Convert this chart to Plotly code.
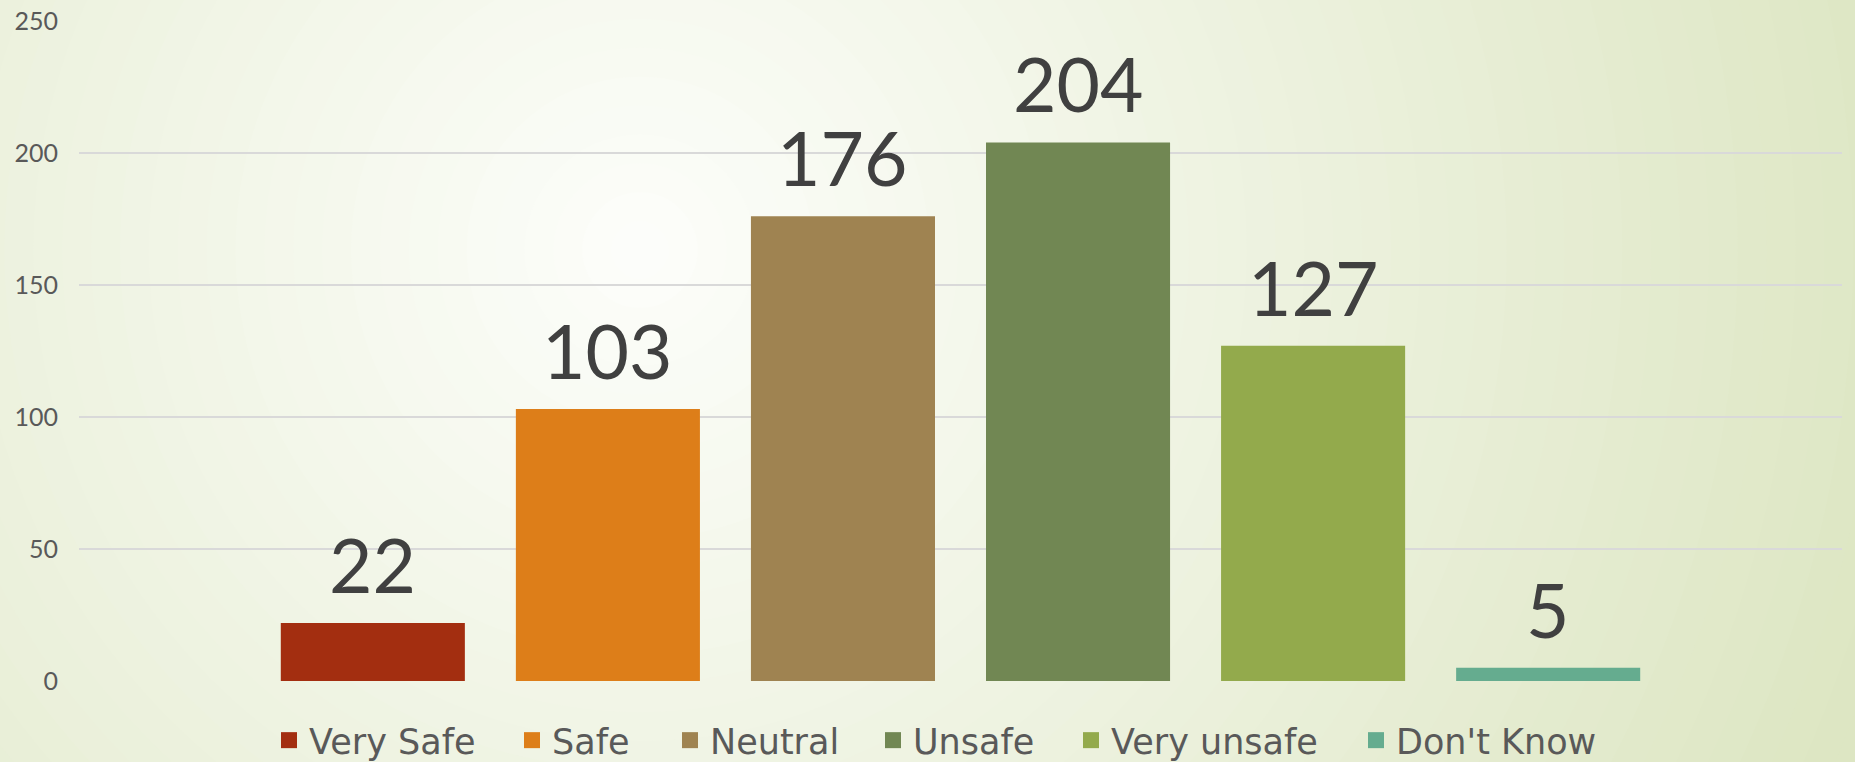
import plotly.graph_objects as go

categories = ["Very Safe", "Safe", "Neutral", "Unsafe", "Very unsafe", "Don't Know"]
values = [22, 103, 176, 204, 127, 5]
colors = ["#a32e10", "#dd7e19", "#9f8351", "#718753", "#93aa4c", "#65ac8f"]
y_ticks = [0, 50, 100, 150, 200, 250]

# layout / style settings (pixels)
W, H = 1855, 762
ML, MR, MT, MB = 79, 13, 21, 81
PW, PH = W - ML - MR, H - MT - MB
legend_swatch_left_px = [281, 524, 682, 885, 1083, 1368]

FONT = "Lato"
LEGEND_FONT = "DejaVu Sans"

fig = go.Figure()
for cat, val, col in zip(categories, values, colors):
    fig.add_trace(go.Bar(
        x=[cat], y=[val], name=cat, showlegend=False,
        marker=dict(color=col, line=dict(width=0)),
        cliponaxis=False,
    ))

legend_layouts = {}
for i, (cat, col) in enumerate(zip(categories, colors)):
    lname = "legend" if i == 0 else "legend%d" % (i + 1)
    fig.add_trace(go.Scatter(
        x=[None], y=[None], name=cat, mode="markers",
        marker=dict(symbol="square", size=20, color=col),
        showlegend=True, hoverinfo="skip", legend=lname,
    ))
    legend_layouts[lname] = dict(
        orientation="h", xanchor="left", yanchor="middle",
        x=(legend_swatch_left_px[i] - 12 - ML) / PW, y=-0.09,
        font=dict(family=LEGEND_FONT, size=35, color="#595959"),
        bgcolor="rgba(0,0,0,0)", borderwidth=0,
        itemclick=False, itemdoubleclick=False,
    )

annotations = []
for cat, val in zip(categories, values):
    annotations.append(dict(
        x=cat, y=val, xref="x", yref="y", text=str(val),
        showarrow=False, yanchor="bottom", xanchor="center", yshift=12,
        font=dict(family=FONT, size=75, color="#404040"),
    ))

# radial background gradient (decoration)
def lerp(c1, c2, t):
    a = [int(c1[i:i+2], 16) for i in (1, 3, 5)]
    b = [int(c2[i:i+2], 16) for i in (1, 3, 5)]
    return "rgb(%d,%d,%d)" % tuple(round(a[k] + (b[k] - a[k]) * t) for k in range(3))

shapes = []
cx, cy = 640, 250
RMAX = 1300
N = 45
inner, outer = "#fdfefb", "#dde6c3"
for i in range(N, 0, -1):
    r = RMAX * i / N
    t = i / N
    shapes.append(dict(
        type="circle", xref="paper", yref="paper", layer="below",
        x0=(cx - r - ML) / PW, x1=(cx + r - ML) / PW,
        y0=(H - MB - (cy + r)) / PH, y1=(H - MB - (cy - r)) / PH,
        fillcolor=lerp(inner, outer, t), line=dict(width=0),
    ))

fig.update_layout(
    width=W, height=H,
    margin=dict(l=ML, r=MR, t=MT, b=MB, pad=0, autoexpand=False),
    paper_bgcolor=outer,
    plot_bgcolor="rgba(0,0,0,0)",
    barmode="relative",
    bargap=0.217,
    shapes=shapes,
    annotations=annotations,
    showlegend=True,
    xaxis=dict(
        range=[-1.25, 6.25], showticklabels=False, showgrid=False,
        zeroline=False, showline=False, ticks="", fixedrange=True,
    ),
    yaxis=dict(
        range=[0, 250], tickvals=y_ticks, ticktext=[str(v) for v in y_ticks],
        showgrid=True, gridcolor="#d9d9d9", gridwidth=2,
        zeroline=False, showline=False, ticks="",
        tickfont=dict(family=FONT, size=25, color="#595959"),
        ticklabelstandoff=20, fixedrange=True, automargin=False,
    ),
    font=dict(family=FONT),
    **legend_layouts,
)

fig.write_html(
    "out.html",
    config={"displayModeBar": False},
    post_script="document.body.style.margin='0';document.body.style.overflow='hidden';",
)
